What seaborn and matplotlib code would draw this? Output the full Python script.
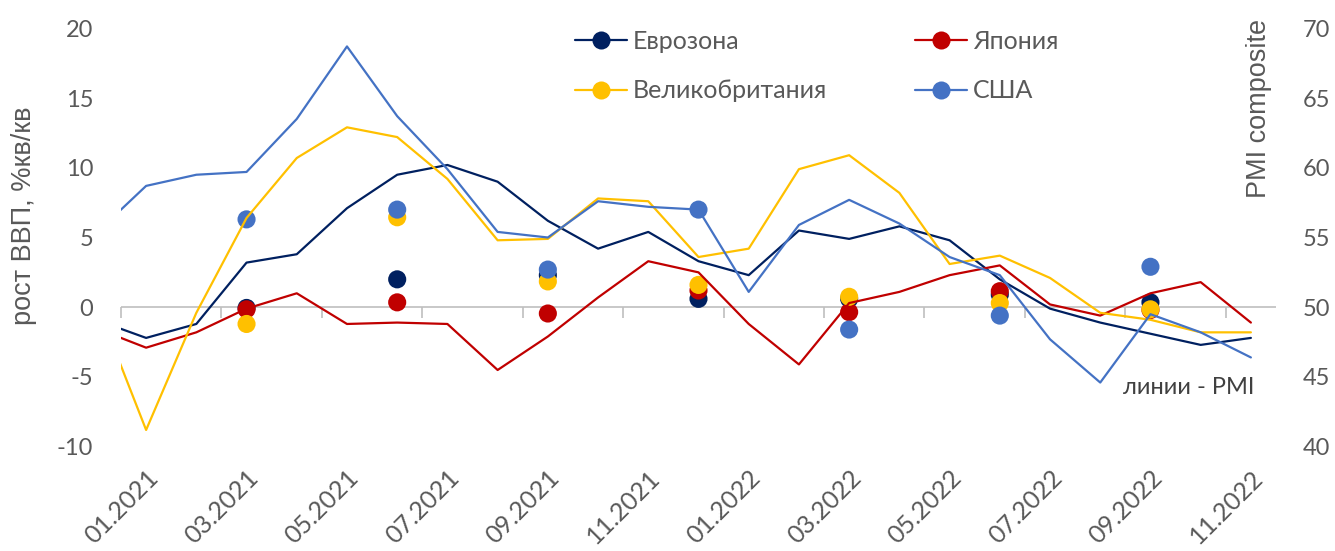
import numpy as np
import pandas as pd
import matplotlib
matplotlib.use("Agg")
import matplotlib.pyplot as plt
from matplotlib.lines import Line2D
from matplotlib.transforms import ScaledTranslation
import seaborn as sns

# ---------------- data ----------------
months = ['12.2020', '01.2021', '02.2021', '03.2021', '04.2021', '05.2021', '06.2021',
          '07.2021', '08.2021', '09.2021', '10.2021', '11.2021', '12.2021',
          '01.2022', '02.2022', '03.2022', '04.2022', '05.2022', '06.2022',
          '07.2022', '08.2022', '09.2022', '10.2022', '11.2022']

pmi_ez = [49.1, 47.8, 48.8, 53.2, 53.8, 57.1, 59.5, 60.2, 59.0, 56.2, 54.2, 55.4, 53.3,
          52.3, 55.5, 54.9, 55.8, 54.8, 52.0, 49.9, 48.9, 48.1, 47.3, 47.8]
pmi_jp = [48.5, 47.1, 48.2, 49.9, 51.0, 48.8, 48.9, 48.8, 45.5, 47.9, 50.7, 53.3, 52.5,
          48.8, 45.9, 50.3, 51.1, 52.3, 53.0, 50.2, 49.4, 51.0, 51.8, 48.9]
pmi_uk = [50.4, 41.2, 49.6, 56.4, 60.7, 62.9, 62.2, 59.2, 54.8, 54.9, 57.8, 57.6, 53.6,
          54.2, 59.9, 60.9, 58.2, 53.1, 53.7, 52.1, 49.6, 49.1, 48.2, 48.2]
pmi_us = [55.3, 58.7, 59.5, 59.7, 63.5, 68.7, 63.7, 59.9, 55.4, 55.0, 57.6, 57.2, 57.0,
          51.1, 55.9, 57.7, 56.0, 53.6, 52.3, 47.7, 44.6, 49.5, 48.2, 46.4]

quarters = ['03.2021', '06.2021', '09.2021', '12.2021', '03.2022', '06.2022', '09.2022']
gdp_ez = [-0.05, 2.0, 2.3, 0.6, 0.6, 0.9, 0.35]
gdp_jp = [-0.15, 0.35, -0.45, 1.2, -0.35, 1.15, -0.2]
gdp_uk = [-1.2, 6.45, 1.85, 1.6, 0.75, 0.3, -0.15]
gdp_us = [6.3, 7.0, 2.7, 7.0, -1.6, -0.6, 2.9]

countries = ['Еврозона', 'Япония', 'Великобритания', 'США']
colors = ['#002060', '#C00000', '#FFC000', '#4472C4']
xtick_labels = ['01.2021', '03.2021', '05.2021', '07.2021', '09.2021', '11.2021',
                '01.2022', '03.2022', '05.2022', '07.2022', '09.2022', '11.2022']

# ---------------- frames ----------------
first = months.index('01.2021')
pos = {m: i - first for i, m in enumerate(months)}
pmi_df = pd.DataFrame({
    'x': [pos[m] for m in months] * 4,
    'pmi': pmi_ez + pmi_jp + pmi_uk + pmi_us,
    'country': sum([[c] * len(months) for c in countries], []),
})
gdp_df = pd.DataFrame({
    'x': [pos[q] for q in quarters] * 4,
    'gdp': gdp_ez + gdp_jp + gdp_uk + gdp_us,
    'country': sum([[c] * len(quarters) for c in countries], []),
})
palette = dict(zip(countries, colors))

# ---------------- plot ----------------
sns.set_theme(style='white')
plt.rcParams['font.family'] = ['Lato', 'DejaVu Sans']
plt.rcParams['axes.unicode_minus'] = False
grey = '#595959'

fig = plt.figure(figsize=(13.35, 5.51), dpi=100)
W, H = 1335, 551
ax = fig.add_axes([121 / W, 1 - 446.7 / H, 1155 / W, (446.7 - 28.3) / H])
ax2 = ax.twinx()

sns.scatterplot(data=gdp_df, x='x', y='gdp', hue='country', palette=palette,
                hue_order=countries, s=170, edgecolor='none', linewidth=0,
                alpha=1, ax=ax, legend=False, zorder=3)
sns.lineplot(data=pmi_df, x='x', y='pmi', hue='country', palette=palette,
             hue_order=countries, linewidth=1.6, ax=ax2, legend=False,
             sort=False, estimator=None)

ax.set_xlim(-0.5, 22.5)
ax.set_ylim(-10, 20)
ax2.set_ylim(40, 70)
ax.set_yticks(np.arange(-10, 21, 5))
ax2.set_yticks(np.arange(40, 71, 5))
ax.set_xlabel('')
ax.set_ylabel('')
ax2.set_ylabel('')

for a in (ax, ax2):
    for s in a.spines.values():
        s.set_visible(False)
    a.grid(False)

ax.tick_params(axis='y', length=0, pad=20, labelsize=17, labelcolor=grey)
ax2.tick_params(axis='y', length=0, pad=19, labelsize=17, labelcolor=grey)

ax.set_xticks(range(0, 23, 2))
ax.set_xticklabels(xtick_labels, rotation=45, ha='right', va='top',
                   rotation_mode='anchor', fontsize=18, color=grey)
ax.tick_params(axis='x', length=0, pad=14)
off = ScaledTranslation(0 / 100, 0, fig.dpi_scale_trans)
for lab in ax.get_xticklabels():
    lab.set_transform(lab.get_transform() + off)

# zero line with tick marks between categories
ax.axhline(0, color='#BFBFBF', lw=1.2, zorder=1)
sec = ax.secondary_xaxis(1 / 3)
sec.set_xticks(np.arange(-0.5, 22, 2))
sec.set_xticklabels([])
sec.tick_params(axis='x', direction='out', length=8, width=1.2, color='#BFBFBF')
for s in sec.spines.values():
    s.set_visible(False)

# axis titles
fig.text(24 / W, 1 - 216 / H, 'рост ВВП, %кв/кв', rotation=90, ha='center', va='center',
         fontsize=19.5, color=grey, family=['Liberation Sans', 'DejaVu Sans'])
fig.text(1259 / W, 1 - 108 / H, 'PMI composite', rotation=90, ha='center', va='center',
         fontsize=19.5, color=grey, family=['Liberation Sans', 'DejaVu Sans'])
fig.text(1254 / W, 1 - 388 / H, 'линии - PMI', ha='right', va='center',
         fontsize=17, color='#404040')

# legend (row-wise order: Еврозона, Япония / Великобритания, США)
order = [0, 2, 1, 3]
handles = [Line2D([0], [0], color=colors[i], lw=1.6, marker='o', markersize=13,
                  markeredgewidth=0) for i in order]
labels = [countries[i] for i in order]
leg = ax2.legend(handles, labels, ncol=2, loc='upper left',
                 bbox_to_anchor=(575 / W, 1 - 30 / H), bbox_transform=fig.transFigure,
                 frameon=False, fontsize=18, handlelength=2.08, handletextpad=0.24,
                 columnspacing=3.5, labelspacing=1.05, borderpad=0, borderaxespad=0)
for t in leg.get_texts():
    t.set_color(grey)

fig.savefig('out.png', dpi=100)
